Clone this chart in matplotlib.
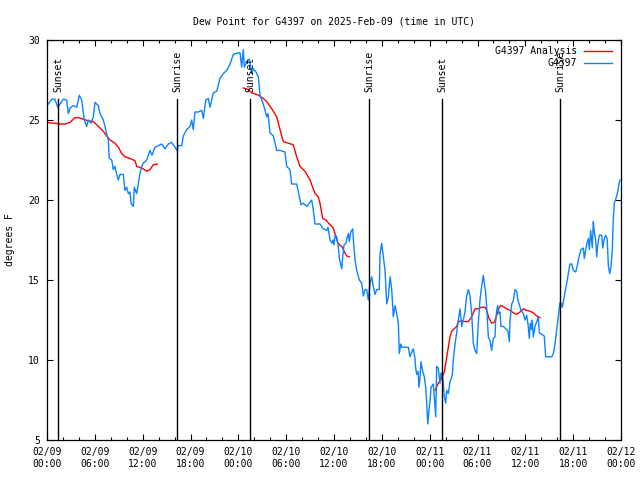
import pandas as pd
import matplotlib
matplotlib.use('Agg')
import matplotlib.pyplot as plt
import matplotlib.dates as mdates

start = pd.Timestamp('2025-02-09 00:00')

# observed dew point, hours since 02/09 00:00 UTC
obs_hours = [0.16, 0.59, 1.0, 1.34, 1.63, 2.04, 2.47, 2.67, 2.89, 3.30, 3.73, 4.05, 4.35, 4.55, 4.68,
             4.98, 5.18, 5.52, 5.81, 6.02, 6.44, 6.65, 7.06, 7.28, 7.49, 7.69, 7.81, 8.12, 8.32, 8.53,
             8.74, 8.94, 9.16, 9.57, 9.78, 10.0, 10.20, 10.41, 10.54, 10.83, 10.95, 11.25, 11.45, 11.67,
             11.88, 12.08, 12.51, 12.92, 13.17, 13.55, 13.96, 14.39, 14.80, 15.22, 15.64, 16.06, 16.31,
             16.47, 16.90, 17.10, 17.52, 17.94, 18.15, 18.35, 18.56, 18.98, 19.41, 19.61, 19.91, 20.23,
             20.45, 20.86, 21.29, 21.70, 22.12, 22.54, 22.96, 23.37, 24.0, 24.21, 24.42, 24.55, 24.62,
             24.75, 25.05, 25.38, 25.68, 25.88, 26.22, 26.51, 26.72, 27.13, 27.56, 27.72, 27.97, 28.39,
             28.81, 29.23, 29.85, 30.07, 30.48, 30.69, 31.32, 31.65, 31.86, 32.15, 32.58, 32.90, 33.20,
             33.40, 33.62, 34.24, 34.66, 35.09, 35.25, 35.50, 35.75, 35.88, 36.00, 36.13, 36.34, 36.54,
             36.67, 36.97, 37.09, 37.26, 37.51, 37.67, 37.80, 37.92, 38.10, 38.35, 38.43, 38.64, 38.85,
             39.17, 39.48, 39.68, 39.89, 40.10, 40.30, 40.52, 40.73, 40.93, 41.14, 41.36, 41.68, 41.77,
             41.98, 42.19, 42.40, 42.61, 42.81, 43.03, 43.24, 43.44, 43.65, 43.87, 44.07, 44.19, 44.37,
             44.49, 45.32, 45.53, 45.75, 45.95, 46.16, 46.22, 46.37, 46.54, 46.66, 46.79, 46.91, 47.08,
             47.33, 47.50, 47.63, 47.76, 47.92, 48.04, 48.17, 48.46, 48.67, 48.76, 48.88, 49.08, 49.30,
             49.42, 49.59, 49.71, 49.84, 50.01, 50.14, 50.34, 50.55, 50.76, 50.86, 50.96, 51.18, 51.39,
             51.59, 51.81, 52.02, 52.22, 52.43, 52.64, 52.85, 53.06, 53.27, 53.48, 53.69, 53.90, 54.10,
             54.31, 54.52, 54.73, 54.85, 55.03, 55.15, 55.36, 55.57, 55.78, 55.98, 56.20, 56.26, 56.41,
             56.53, 56.69, 56.82, 56.94, 57.23, 57.66, 57.82, 57.99, 58.08, 58.29, 58.49, 58.71, 58.92,
             59.04, 59.21, 59.46, 59.75, 59.96, 60.17, 60.37, 60.50, 60.62, 60.80, 60.87, 61.00, 61.21,
             61.43, 61.63, 61.75, 62.38, 62.47, 62.55, 63.31, 63.51, 63.72, 63.94, 64.14, 64.35, 64.56,
             64.64, 64.89, 65.19, 65.39, 65.60, 65.82, 66.02, 66.32, 66.52, 66.73, 66.98, 67.27, 67.40,
             67.57, 67.74, 67.90, 68.03, 68.20, 68.40, 68.53, 68.65, 68.83, 68.95, 69.08, 69.28, 69.58,
             69.71, 69.91, 70.08, 70.25, 70.33, 70.41, 70.58, 70.74, 70.91, 71.03, 71.16, 71.37, 71.58,
             71.74, 71.87]
obs_dewpt = [26.0, 26.3, 26.3, 25.8, 26.0, 26.3, 26.25, 25.4, 25.75, 25.9, 25.8, 26.55, 26.25, 25.5, 25.0,
             24.6, 25.0, 24.8, 25.2, 26.1, 25.9, 25.4, 25.0, 24.6, 24.1, 23.75, 22.6, 22.5, 21.9, 22.1,
             21.6, 21.25, 21.6, 21.6, 20.6, 20.8, 20.4, 20.5, 19.8, 19.6, 20.8, 20.4, 21.0, 21.7,
             22.1, 22.3, 22.5, 23.1, 22.8, 23.3, 23.4, 23.5, 23.2, 23.5, 23.6, 23.3, 23.1,
             23.4, 23.4, 24.0, 24.4, 24.6, 25.0, 24.4, 25.5, 25.5, 25.6, 25.1, 26.25, 26.35,
             25.8, 26.7, 26.8, 27.6, 27.9, 28.1, 28.5, 29.1, 29.2, 29.2, 28.3, 29.0, 29.4,
             28.3, 28.65, 28.8, 27.9, 28.2, 28.0, 27.7, 26.55, 26.0, 25.2, 25.4, 24.2, 24.0,
             23.1, 23.1, 23.0, 22.1, 21.9, 21.0, 21.0, 20.2, 19.7, 19.8, 19.6, 19.8, 20.0,
             19.4, 18.5, 18.5, 18.2, 18.1, 18.3, 17.5, 17.3, 17.5, 17.2, 17.8, 17.7, 17.1,
             16.35, 15.7, 16.45, 17.2, 17.3, 17.7, 17.9, 17.4, 18.0, 18.2, 17.5, 16.25, 15.6,
             15.0, 14.8, 14.0, 14.4, 14.4, 13.75, 14.8, 15.2, 14.6, 14.1, 14.4, 14.4, 16.6,
             17.3, 16.45, 15.6, 13.5, 13.9, 15.2, 14.4, 12.7, 13.4, 12.9, 12.3, 10.4, 11.0,
             10.8, 10.8, 10.2, 10.5, 10.7, 10.1, 9.6, 9.1, 9.3, 8.3, 8.9, 9.9, 9.4,
             8.95, 8.3, 7.3, 6.0, 6.9, 7.4, 8.3, 8.5, 7.1, 6.45, 9.6, 9.5, 8.55,
             9.2, 9.0, 8.55, 7.7, 7.3, 8.1, 7.9, 8.65, 8.9, 9.2, 10.0, 11.0, 11.7,
             12.5, 13.2, 12.1, 12.5, 13.0, 14.0, 14.4, 14.0, 12.9, 11.0, 10.6, 10.4, 12.3,
             13.75, 14.6, 15.3, 14.8, 14.2, 13.3, 11.45, 11.2, 10.6, 11.35, 11.45, 12.3, 13.1,
             13.4, 12.9, 13.0, 12.1, 12.1, 11.9, 11.8, 11.15, 12.5, 13.5, 13.7, 14.4, 14.3,
             13.8, 13.5, 13.1, 12.9, 12.5, 12.8, 12.1, 11.35, 12.3, 11.9, 12.5, 11.45, 12.1,
             12.4, 12.7, 11.7, 11.5, 10.8, 10.2, 10.2, 10.4, 11.0, 11.9, 12.7, 13.6, 13.5,
             13.3, 14.0, 14.8, 15.4, 16.0, 16.0, 15.6, 15.5, 15.9, 16.45, 16.9, 17.0, 16.35,
             16.9, 17.3, 17.6, 16.9, 18.1, 17.0, 18.65, 18.0, 17.5, 16.45, 17.2, 17.8, 17.8,
             17.0, 17.6, 17.8, 17.6, 16.9, 15.9, 15.4, 15.8, 16.9, 18.75, 19.8, 20.1, 20.5,
             21.0, 21.25]

# analysis, three separate pieces
ana1_hours = [0.13, 0.50, 1.0, 1.63, 2.26, 2.89, 3.51, 3.93, 4.55, 5.18, 5.81, 6.44, 7.06, 7.49, 7.90,
              8.53, 8.94, 9.37, 9.78, 10.41, 11.04, 11.25, 11.88, 12.51, 12.92, 13.33, 13.84]
ana1_dewpt = [24.85, 24.8, 24.8, 24.75, 24.75, 24.85, 25.15, 25.15, 25.05, 24.95, 24.9, 24.6, 24.3, 24.0, 23.75,
              23.55, 23.3, 22.9, 22.7, 22.6, 22.45, 22.1, 22.0, 21.8, 21.9, 22.2, 22.25]
ana2_hours = [24.62, 25.25, 25.68, 26.51, 27.13, 27.56, 28.19, 28.81, 29.23, 29.64, 30.27, 30.90, 31.32,
              31.74, 32.36, 32.99, 33.62, 34.03, 34.24, 34.58, 35.0, 35.41, 35.84, 36.13, 36.42, 36.67,
              36.97, 37.26, 37.59, 37.92]
ana2_dewpt = [27.0, 26.9, 26.7, 26.55, 26.35, 26.15, 25.7, 25.2, 24.4, 23.65, 23.55, 23.45, 22.7,
              22.1, 21.8, 21.25, 20.4, 20.2, 19.8, 18.85, 18.75, 18.5, 18.3, 17.9, 17.4, 17.2,
              17.1, 16.8, 16.5, 16.45]
ana3_hours = [48.67, 49.08, 49.50, 49.84, 50.14, 50.34, 50.55, 50.76, 51.18, 51.39, 51.59, 52.02, 52.43,
              52.85, 53.27, 53.69, 54.10, 54.52, 54.94, 55.15, 55.44, 55.78, 56.11, 56.41, 56.74, 56.94,
              57.23, 57.66, 58.08, 58.49, 58.92, 59.33, 59.75, 60.17, 60.59, 61.0, 61.43, 61.84]
ana3_dewpt = [8.1, 8.55, 8.85, 9.25, 10.2, 10.8, 11.45, 11.8, 12.0, 12.1, 12.4, 12.45, 12.4,
              12.4, 12.7, 13.2, 13.2, 13.3, 13.3, 13.1, 12.6, 12.3, 12.35, 12.8, 13.3, 13.4,
              13.35, 13.2, 13.1, 12.95, 12.85, 13.0, 13.2, 13.1, 13.05, 12.95, 12.75, 12.65]

sun_times = ['2025-02-09 01:25', '2025-02-09 16:19', '2025-02-10 01:31',
             '2025-02-10 16:26', '2025-02-11 01:36', '2025-02-11 16:24']
sun_labels = ['Sunset', 'Sunrise', 'Sunset', 'Sunrise', 'Sunset', 'Sunrise']


def to_time(hours):
    return start + pd.to_timedelta(hours, unit='h')


plt.rcParams['font.family'] = ['DejaVu Sans Mono']
plt.rcParams['font.size'] = 7

fig = plt.figure(figsize=(6.4, 4.8), dpi=100)
ax = fig.add_axes([47 / 640, 40 / 480, 574 / 640, 400 / 480])

red = '#ff0000'
blue = '#0a84ff'
ax.plot(to_time(ana1_hours), ana1_dewpt, color=red, lw=1, label='G4397 Analysis')
ax.plot(to_time(ana2_hours), ana2_dewpt, color=red, lw=1)
ax.plot(to_time(ana3_hours), ana3_dewpt, color=red, lw=1)
ax.plot(to_time(obs_hours), obs_dewpt, color=blue, lw=1, label='G4397')

for t, name in zip(sun_times, sun_labels):
    t = pd.Timestamp(t)
    ax.axvline(t, ymin=0, ymax=0.8525, color='black', lw=1)
    ax.text(t, 0.87, name, transform=ax.get_xaxis_transform(), rotation=90,
            ha='center', va='bottom', fontsize=7)

ax.set_xlim(start, start + pd.Timedelta(hours=72))
ax.set_ylim(5, 30)
ax.set_yticks([5, 10, 15, 20, 25, 30])
ax.xaxis.set_major_locator(mdates.HourLocator(byhour=[0, 6, 12, 18]))
ax.xaxis.set_minor_locator(mdates.HourLocator(byhour=range(0, 24, 2)))
ax.xaxis.set_major_formatter(mdates.DateFormatter('%m/%d\n%H:%M'))
ax.tick_params(which='major', direction='in', length=4, width=0.8, top=True, right=True,
               labelsize=7, pad=5)
ax.tick_params(which='minor', direction='in', length=2.2, width=0.8, top=True, right=True)
for s in ax.spines.values():
    s.set_linewidth(0.9)

ax.set_title('Dew Point for G4397 on 2025-Feb-09 (time in UTC)', fontsize=7, pad=11)
fig.text(10 / 640, 0.5, 'degrees F', rotation=90, ha='center', va='center', fontsize=7)

ax.legend(loc='upper right', bbox_to_anchor=(0.984, 0.985), frameon=False, markerfirst=False,
          handlelength=2.9, handletextpad=0.7, borderpad=0, borderaxespad=0, labelspacing=0.25,
          fontsize=7)

fig.savefig('out.png', dpi=100)
